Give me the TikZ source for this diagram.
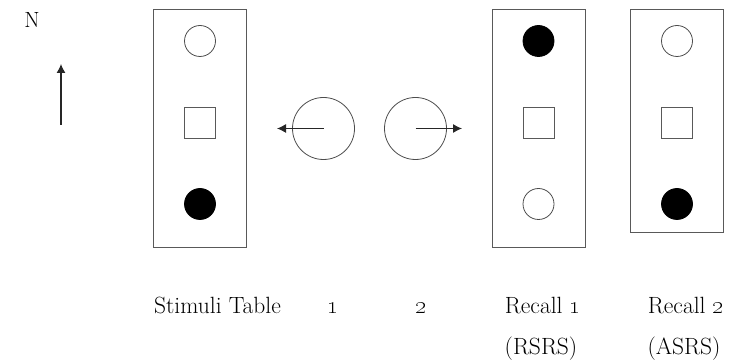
\documentclass[tikz,border=0pt]{standalone}
\usepackage{tikz}
\usetikzlibrary{positioning, arrows.meta}
\tikzset{node distance=81.5pt, % centre to centre of the markers in a panel
every node/.style={font=\fontsize{23.5}{28}\selectfont},
panel/.style={ % the tall boxes
draw=black!65, line width=0.9pt,
minimum width=93pt, minimum height=237.5pt, inner sep=0pt},
ring/.style={circle, draw=black!70, line width=0.8pt, minimum size=31pt, inner sep=0pt},
disc/.style={ring, fill=black, draw=black},
sqbox/.style={rectangle, draw=black!65, line width=0.8pt, minimum size=31pt, inner sep=0pt},
turn/.style={circle, draw=black!70, line width=0.8pt, minimum size=62pt, inner sep=0pt},
caption/.style={anchor=base},
every edge/.style={ % arrows
draw, -{Latex[length=9pt,width=9pt]}, line width=1.1pt, black!85}}

\begin{document}
\begin{tikzpicture}[x=1pt, y=-1pt]
    \useasboundingbox (0,0) rectangle (737,363);

    \node[font=\fontsize{22}{26}\selectfont] (north) at (32,20) {N};
    \coordinate (ntail) at (61,125);
    \coordinate (nhead) at (61,64);

    % stimuli table
    \node[panel] (stim) at (199.5,128.3) {};
    \node[ring] (stimA) at (200,41) {};
    \node[sqbox, below of=stimA] (stimB) {};
    \node[disc, below of=stimB] (stimC) {};

    % turns
    \node[turn] (turnA) at (323.5,128.5) {};
    \coordinate (leftA) at (277,128.5);
    \node[turn] (turnB) at (415.5,128.5) {};
    \coordinate (rightB) at (462,128.5);

    % recall 1
    \node[panel] (recA) at (538.5,128.3) {};
    \node[disc] (recA1) at (538.5,41) {};
    \node[sqbox, below of=recA1] (recA2) {};
    \node[ring, below of=recA2] (recA3) {};

    % recall 2
    \node[panel, minimum height=222.5pt] (recB) at (677,120.8) {};
    \node[ring] (recB1) at (677,41) {};
    \node[sqbox, below of=recB1] (recB2) {};
    \node[disc, below of=recB2] (recB3) {};

    \draw (ntail) edge (nhead);
    \draw (turnA.center) edge (leftA);
    \draw (turnB.center) edge (rightB);

    % captions
    \node[caption] (capS) at (217.5,314) {Stimuli Table};
    \node[caption] (capA) at (333,314) {\oldstylenums{1}};
    \node[caption] (capB) at (421,314) {\oldstylenums{2}};
    \node[caption] (capR) at (543,314) {Recall \oldstylenums{1}};
    \node[caption] (capRs) at (541,355) {(RSRS)};
    \node[caption] (capT) at (686,314) {Recall \oldstylenums{2}};
    \node[caption] (capTs) at (684,355) {(ASRS)};

\end{tikzpicture}
\end{document}
